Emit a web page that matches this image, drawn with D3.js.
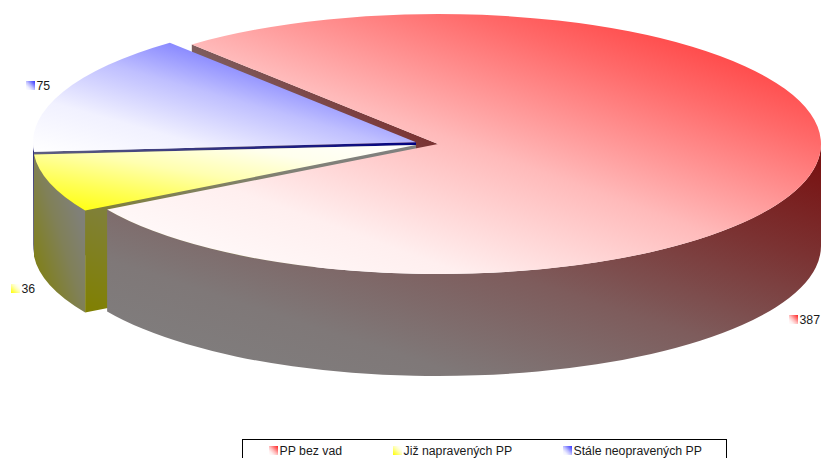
<!DOCTYPE html>
<html><head><meta charset="utf-8">
<script src="https://cdn.jsdelivr.net/npm/d3@7"></script>
<style>html,body{margin:0;padding:0;background:#fff;overflow:hidden}svg{display:block}
text{font-family:"Liberation Sans",Arial,sans-serif;font-size:12.3px;fill:#1a1a1a}</style>
</head><body><svg width="821" height="458"></svg>
<script>
const categories = ["PP bez vad", "Již napravených PP", "Stále neopravených PP"];
const values = [387, 36, 75];
const colors = ["#ff2020", "#ffff00", "#3030ff"];
const wallColors = ["#780c0c", "#808000", "#000080"];
const legendX = [269, 393, 563];
const labelPos = [[789, 315], [11, 284], [26, 81]];
const centers = [[438, 144], [416, 145], [416, 142.3]];
const rx = 383, ry = 130, depth = 102;
const rampOffsets = [0, 0.25, 0.5, 0.75, 1];
const rampAmounts = [0, 0.07, 0.31, 0.67, 1];

const svg = d3.select("svg");
const defs = svg.append("defs");
const deg = Math.PI / 180;
const pie = d3.pie().sort(null).startAngle(-40 * deg).endAngle(320 * deg);
const arcs = pie(values);

// pale end to strong end; bottom-left to top-right unless flipped
function grad(id, pale, strong, flip) {
  const g = defs.append("linearGradient").attr("id", id)
    .attr("x1", flip ? 1 : 0).attr("y1", flip ? 0 : 1).attr("x2", flip ? 0 : 1).attr("y2", flip ? 1 : 0);
  const mix = d3.interpolateRgb(pale, strong);
  rampOffsets.forEach((o, k) => g.append("stop").attr("offset", o).attr("stop-color", mix(rampAmounts[k])));
}
colors.forEach((c, i) => {
  const flip = i === 1;
  grad("top" + i, "#fff", c, flip);
  grad("wall" + i, "#808080", wallColors[i], flip);
  grad("sw" + i, "#fff", c, flip);
});

const pt = (i, a, dy = 0) => [centers[i][0] + rx * Math.sin(a), centers[i][1] - ry * Math.cos(a) + dy];
function topPath(i, a0, a1) {
  const p0 = pt(i, a0), p1 = pt(i, a1), large = (a1 - a0) > Math.PI ? 1 : 0;
  return `M${centers[i]}L${p0}A${rx},${ry} 0 ${large} 1 ${p1}Z`;
}
function outerWall(i, a0, a1) {
  const p0 = pt(i, a0), p1 = pt(i, a1), q1 = pt(i, a1, depth), q0 = pt(i, a0, depth);
  return `M${p0}A${rx},${ry} 0 0 1 ${p1}L${q1}A${rx},${ry} 0 0 0 ${q0}Z`;
}
function radialWall(i, a) {
  const c = centers[i], p = pt(i, a);
  return `M${c}L${p}L${p[0]},${p[1] + depth}L${c[0]},${c[1] + depth}Z`;
}
const draw = (d, fill) => svg.append("path").attr("d", d).attr("fill", fill);
const [red, yellow, blue] = arcs;

// painter's order, back to front
draw(radialWall(0, red.startAngle), "url(#wall0)");
draw(radialWall(2, blue.startAngle), "url(#wall2)");
draw(outerWall(2, blue.startAngle, 270 * deg), "url(#wall2)");
draw(topPath(2, blue.startAngle, blue.endAngle), "url(#top2)");
draw(radialWall(1, yellow.endAngle), "url(#wall1)");
draw(radialWall(1, yellow.startAngle), "url(#wall1)");
draw(outerWall(1, yellow.startAngle, yellow.endAngle), "url(#wall1)");
draw(topPath(1, yellow.startAngle, yellow.endAngle), "url(#top1)");
draw(outerWall(0, 90 * deg, red.endAngle), "url(#wall0)");
draw(topPath(0, red.startAngle, red.endAngle), "url(#top0)");

// data labels
values.forEach((v, i) => {
  const [x, y] = labelPos[i];
  svg.append("rect").attr("x", x).attr("y", y).attr("width", 9).attr("height", 9).attr("fill", `url(#sw${i})`);
  svg.append("text").attr("x", x + 10.5).attr("y", y + 9).text(v);
});

// legend
svg.append("rect").attr("x", 242.5).attr("y", 439.5).attr("width", 484).attr("height", 40)
  .attr("fill", "#fff").attr("stroke", "#000");
categories.forEach((c, i) => {
  svg.append("rect").attr("x", legendX[i]).attr("y", 446).attr("width", 9).attr("height", 9).attr("fill", `url(#sw${i})`);
  svg.append("text").attr("x", legendX[i] + 10.5).attr("y", 454.5).text(c);
});
</script></body></html>
